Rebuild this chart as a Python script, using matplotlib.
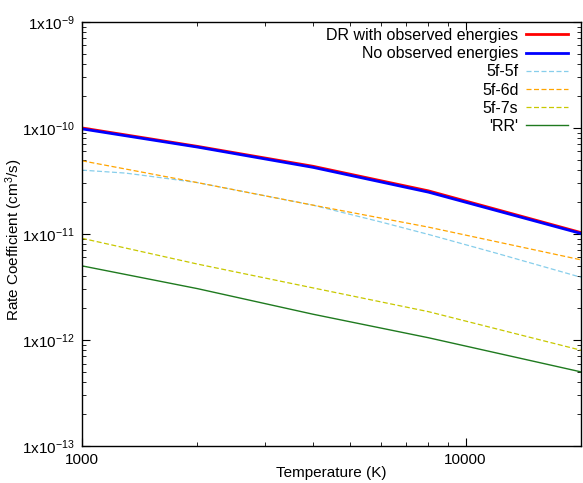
import numpy as np
import matplotlib
matplotlib.use("Agg")
import matplotlib.pyplot as plt
from matplotlib.ticker import LogLocator, FuncFormatter, NullFormatter

plt.rcParams['font.family'] = ['Liberation Sans', 'DejaVu Sans']
plt.rcParams['mathtext.default'] = 'regular'

# Temperature grid (K) and rate coefficients (cm^3/s)
temps = [1000, 2000, 4000, 8000, 20000]
dr_observed = [1.00e-10, 6.7e-11, 4.35e-11, 2.55e-11, 1.03e-11]
no_observed = [0.98e-10, 6.6e-11, 4.25e-11, 2.48e-11, 1.01e-11]

temps_5f5f = [1000, 1300, 1600, 2000, 4000, 6000, 8000, 12000, 20000]
rc_5f5f = [4.0e-11, 3.75e-11, 3.4e-11, 3.05e-11, 1.87e-11, 1.3e-11, 9.9e-12, 6.6e-12, 3.9e-12]
rc_5f6d = [4.9e-11, 3.05e-11, 1.87e-11, 1.16e-11, 5.7e-12]
rc_5f7s = [9.1e-12, 5.2e-12, 3.1e-12, 1.85e-12, 8.0e-13]
rc_rr = [5.0e-12, 3.05e-12, 1.75e-12, 1.05e-12, 5.0e-13]

fig = plt.figure(figsize=(5.83, 4.83), dpi=100)
ax = fig.add_axes([0.1407, 0.0766, 0.856, 0.878])

ax.plot(temps, dr_observed, color='#ff0000', lw=2.0, label='DR with observed energies')
ax.plot(temps, no_observed, color='#0000ff', lw=2.0, label='No observed energies')
ax.plot(temps_5f5f, rc_5f5f, color='#87ceeb', lw=0.9, ls=(0, (4, 2)), label='5f-5f')
ax.plot(temps, rc_5f6d, color='#ffa500', lw=0.9, ls=(0, (4, 2)), label='5f-6d')
ax.plot(temps, rc_5f7s, color='#c8c800', lw=0.9, ls=(0, (4, 2)), label='5f-7s')
ax.plot(temps, rc_rr, color='#1f7a1f', lw=1.0, label="'RR'")

ax.set_xscale('log')
ax.set_yscale('log')
ax.set_xlim(1000, 20000)
ax.set_ylim(1e-13, 1e-9)

ax.yaxis.set_major_locator(LogLocator(base=10, numticks=10))
ax.yaxis.set_major_formatter(FuncFormatter(lambda v, p: r'1x10$^{%d}$' % round(np.log10(v))))
ax.yaxis.set_minor_locator(LogLocator(base=10, subs=np.arange(2, 10), numticks=20))
ax.yaxis.set_minor_formatter(NullFormatter())
ax.xaxis.set_major_formatter(FuncFormatter(lambda v, p: '%d' % v))
ax.xaxis.set_minor_formatter(NullFormatter())

ax.tick_params(which='both', direction='in', top=True, right=True, labelsize=11)
ax.tick_params(which='major', length=6, width=0.8)
ax.tick_params(which='minor', length=3, width=0.6)
ax.tick_params(axis='x', pad=5)
ax.tick_params(axis='y', pad=5)
for s in ax.spines.values():
    s.set_linewidth(1.0)

ax.set_xlabel('Temperature (K)', fontsize=11)
ax.xaxis.set_label_coords(0.5, -0.048)
ax.set_ylabel('Rate Coefficient (cm$^3$/s)', fontsize=11)
ax.yaxis.set_label_coords(-0.115, 0.486)

ax.legend(loc='upper right', bbox_to_anchor=(0.996, 1.012), frameon=False,
          markerfirst=False, fontsize=11.5, handlelength=2.6, labelspacing=0.2,
          borderaxespad=0.35, handletextpad=0.5, borderpad=0.35)

fig.savefig('out.png', dpi=100)
